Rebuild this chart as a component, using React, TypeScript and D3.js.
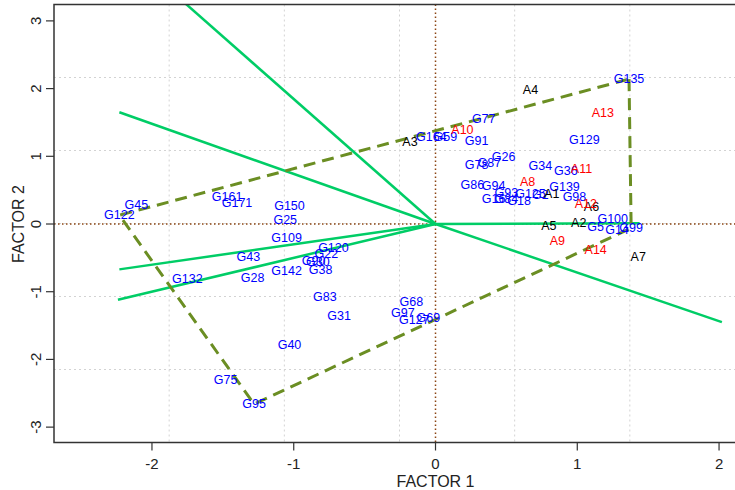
import React from "react";
import * as d3 from "d3";

// genotype scores (factor 1, factor 2)
const GEN_NAMES = [
  "G135", "G77", "G164", "G59", "G91", "G26", "G78", "G87", "G34", "G36",
  "G129", "G139", "G98", "G86", "G94", "G93", "G125", "G2", "G16", "G84",
  "G18", "G100", "G5", "G14", "G99",
  "G45", "G122", "G161", "G171", "G150", "G25", "G109", "G120", "G22", "G90",
  "G30", "G43", "G142", "G38", "G28", "G132", "G83", "G31", "G68", "G97",
  "G127", "G69", "G40", "G75", "G95",
];
const GEN_X = [
  1.365, 0.34, -0.03, 0.07, 0.29, 0.48, 0.29, 0.38, 0.74, 0.92,
  1.05, 0.91, 0.98, 0.26, 0.41, 0.5, 0.67, 0.74, 0.41, 0.5,
  0.59, 1.25, 1.13, 1.28, 1.38,
  -2.11, -2.23, -1.47, -1.4, -1.03, -1.06, -1.05, -0.72, -0.77, -0.86,
  -0.83, -1.32, -1.05, -0.81, -1.29, -1.75, -0.78, -0.68, -0.17, -0.23,
  -0.15, -0.05, -1.03, -1.48, -1.28,
];
const GEN_Y = [
  2.14, 1.55, 1.29, 1.28, 1.23, 0.99, 0.87, 0.9, 0.86, 0.78,
  1.24, 0.55, 0.4, 0.58, 0.56, 0.46, 0.44, 0.43, 0.37, 0.37,
  0.34, 0.07, -0.04, -0.09, -0.06,
  0.28, 0.13, 0.4, 0.31, 0.27, 0.06, -0.21, -0.35, -0.44, -0.55,
  -0.56, -0.49, -0.69, -0.68, -0.8, -0.81, -1.08, -1.36, -1.15, -1.31,
  -1.42, -1.39, -1.79, -2.3, -2.66,
];

// environment scores
const ENV_NAMES = [
  "A1", "A2", "A3", "A4", "A5", "A6", "A7",
  "A8", "A9", "A10", "A11", "A12", "A13", "A14",
];
const ENV_X = [0.82, 1.01, -0.18, 0.67, 0.8, 1.1, 1.43, 0.65, 0.86, 0.19, 1.03, 1.06, 1.18, 1.13];
const ENV_Y = [0.44, 0.01, 1.21, 1.98, -0.03, 0.25, -0.49, 0.62, -0.25, 1.39, 0.81, 0.3, 1.64, -0.38];
const ENV_RED = ["A8", "A9", "A10", "A11", "A12", "A13", "A14"];

// polygon vertices (genotypes) and sector rays
const HULL = ["G135", "G99", "G95", "G122"];
const RAY_X = [-1.95, -2.23, -2.23, -2.24, 1.44, 2.02];
const RAY_Y = [3.6, 1.65, -0.67, -1.12, 0.01, -1.45];

const X_TICKS = [-2, -1, 0, 1, 2];
const Y_TICKS = [-3, -2, -1, 0, 1, 2, 3];

const W = 735;
const H = 490;
const M = { left: 54, right: 745, top: 4.5, bottom: 442.5 };
const FONT = "Liberation Sans, Arial, sans-serif";

export default function App() {
  const x = d3.scaleLinear().domain([-2.691, 2.183]).range([M.left, M.right]);
  const y = d3.scaleLinear().domain([-3.227, 3.242]).range([M.bottom, M.top]);

  const [x0, x1] = x.domain();
  const [y0, y1] = y.domain();
  const gridX = d3.range(1, 6).map((i) => x0 + (i * (x1 - x0)) / 6);
  const gridY = d3.range(1, 6).map((i) => y0 + (i * (y1 - y0)) / 6);

  const hullPts = HULL.map((n) => {
    const i = GEN_NAMES.indexOf(n);
    return [x(GEN_X[i]), y(GEN_Y[i])] as [number, number];
  });
  const hullPath = d3.line()(hullPts) + "Z";

  return (
    <svg
      width={W}
      height={H}
      style={{ position: "absolute", left: 0, top: 0, background: "#fff" }}
      fontFamily={FONT}
    >
      <defs>
        <clipPath id="plot">
          <rect x={M.left} y={M.top} width={M.right - M.left} height={M.bottom - M.top} />
        </clipPath>
      </defs>

      {/* grid */}
      {gridX.map((v, i) => (
        <line key={"gx" + i} x1={x(v)} x2={x(v)} y1={M.top} y2={M.bottom}
          stroke="#d3d3d3" strokeWidth={1} strokeDasharray="2,3" />
      ))}
      {gridY.map((v, i) => (
        <line key={"gy" + i} x1={M.left} x2={M.right} y1={y(v)} y2={y(v)}
          stroke="#d3d3d3" strokeWidth={1} strokeDasharray="2,3" />
      ))}

      {/* zero lines */}
      <line x1={x(0)} x2={x(0)} y1={M.top} y2={M.bottom} stroke="#8b4513"
        strokeWidth={1.5} strokeDasharray="1.5,2.5" />
      <line x1={M.left} x2={M.right} y1={y(0)} y2={y(0)} stroke="#8b4513"
        strokeWidth={1.5} strokeDasharray="1.5,2.5" />

      <g clipPath="url(#plot)">
        {RAY_X.map((v, i) => (
          <line key={"r" + i} x1={x(0)} y1={y(0)} x2={x(v)} y2={y(RAY_Y[i])}
            stroke="#00cd66" strokeWidth={2.5} />
        ))}
        <path d={hullPath} fill="none" stroke="#6b8e23" strokeWidth={3}
          strokeDasharray="12,7" />
      </g>

      {/* genotype labels */}
      {GEN_NAMES.map((n, i) => (
        <text key={n} x={x(GEN_X[i])} y={y(GEN_Y[i])} fontSize={12.5}
          fill="#0000ff" textAnchor="middle" dominantBaseline="central">
          {n}
        </text>
      ))}
      {/* environment labels */}
      {ENV_NAMES.map((n, i) => (
        <text key={n} x={x(ENV_X[i])} y={y(ENV_Y[i])} fontSize={12.5}
          fill={ENV_RED.includes(n) ? "#ff0000" : "#000"} textAnchor="middle"
          dominantBaseline="central">
          {n}
        </text>
      ))}

      {/* box */}
      <rect x={M.left} y={M.top} width={M.right - M.left} height={M.bottom - M.top}
        fill="none" stroke="#333" strokeWidth={1.5} />

      {/* x axis */}
      {X_TICKS.map((t) => (
        <g key={"xt" + t} transform={`translate(${x(t)},${M.bottom})`}>
          <line y2={8} stroke="#333" strokeWidth={1.2} />
          <text y={21} fontSize={15} textAnchor="middle" dominantBaseline="central" fill="#222">
            {t}
          </text>
        </g>
      ))}
      <text x={x(0)} y={481} fontSize={16} textAnchor="middle" dominantBaseline="central" fill="#222">
        FACTOR 1
      </text>

      {/* y axis */}
      {Y_TICKS.map((t) => (
        <g key={"yt" + t} transform={`translate(${M.left},${y(t)})`}>
          <line x2={-8} stroke="#333" strokeWidth={1.2} />
          <text transform="translate(-19,0) rotate(-90)" fontSize={15} textAnchor="middle"
            dominantBaseline="central" fill="#222">
            {t}
          </text>
        </g>
      ))}
      <text transform={`translate(18,${y(0)}) rotate(-90)`} fontSize={16} textAnchor="middle"
        dominantBaseline="central" fill="#222">
        FACTOR 2
      </text>
    </svg>
  );
}
